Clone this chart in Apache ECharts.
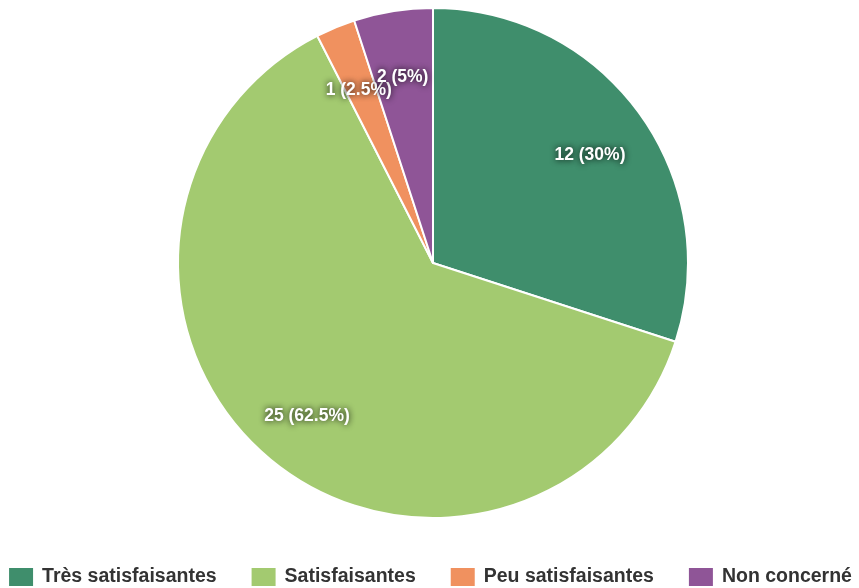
<!DOCTYPE html>
<html>
<head>
<meta charset="utf-8">
<script src="https://cdn.jsdelivr.net/npm/echarts@6/dist/echarts.min.js"></script>
<style>
  html, body { margin: 0; padding: 0; background: #fff; }
  #chart { width: 859px; height: 588px; }
</style>
</head>
<body>
<div id="chart"></div>
<script>
const categories = ["Très satisfaisantes", "Satisfaisantes", "Peu satisfaisantes", "Non concerné"];
const counts = [12, 25, 1, 2];
const colors = ["#3f8e6c", "#a3ca70", "#f0915f", "#8f5597"];

const total = counts.reduce((a, b) => a + b, 0);
const pieData = categories.map((name, i) => ({ name, value: counts[i] }));

const chart = echarts.init(document.getElementById("chart"));

const option = {
  animation: false,
  color: colors,
  legend: {
    top: 566,
    left: "center",
    padding: 0,
    width: 859,
    itemWidth: 26,
    itemHeight: 20,
    itemGap: 33,
    icon: "rect",
    textStyle: {
      fontFamily: "Liberation Sans, Arial, sans-serif",
      fontWeight: "bold",
      fontSize: 19.5,
      color: "#333",
      padding: [0, 0, 0, 3],
    },
    data: categories,
  },
  series: [
    {
      // visible pie
      type: "pie",
      center: [433, 263],
      radius: [0, 255],
      startAngle: 90,
      clockwise: true,
      silent: true,
      data: pieData,
      itemStyle: { borderColor: "#fff", borderWidth: 2 },
      label: { show: false },
      labelLine: { show: false },
    },
    {
      // transparent ring, only carries the labels at ~3/4 radius
      type: "pie",
      center: [433, 263],
      radius: [127, 255],
      startAngle: 90,
      clockwise: true,
      silent: true,
      avoidLabelOverlap: false,
      data: pieData,
      itemStyle: { color: "transparent", borderWidth: 0 },
      label: {
        show: true,
        position: "inside",
        minMargin: 0,
        offset: [0, 6],
        formatter: (p) => `${p.value} (${+(p.value / total * 100).toFixed(1)}%)`,
        fontFamily: "Liberation Sans, Arial, sans-serif",
        fontWeight: "bold",
        fontSize: 17.5,
        color: "#fff",
        textShadowColor: "rgba(0,0,0,0.95)",
        textShadowBlur: 6,
      },
      labelLayout: { hideOverlap: false },
      labelLine: { show: false },
    },
  ],
};

chart.setOption(option);
</script>
</body>
</html>
